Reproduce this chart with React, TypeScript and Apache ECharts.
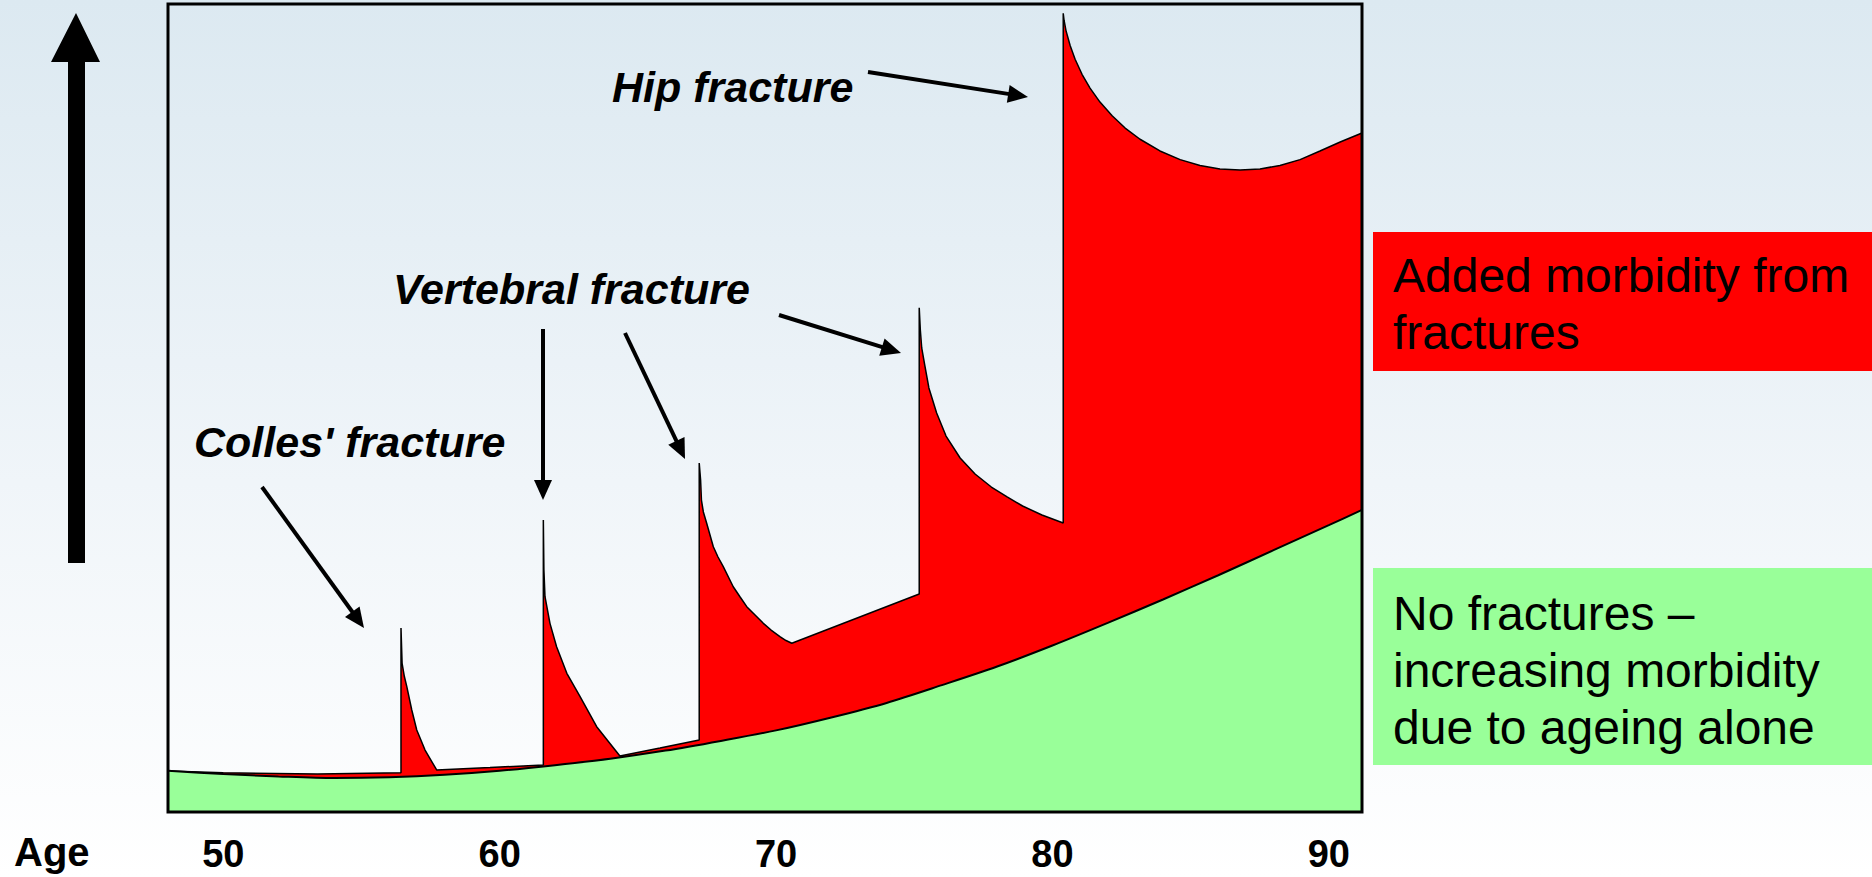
import React, { useEffect, useRef } from "react";
import * as echarts from "echarts";

// ---- Data (age in years, morbidity in arbitrary units 0-100) ----
const tickAges = [50, 60, 70, 80, 90];

// Morbidity due to ageing alone (green area)
const ageingAges = [48, 50, 52, 54, 56, 58, 60, 62, 64, 66, 68, 70, 72, 74, 76, 78, 80, 82, 84, 86, 88, 90, 91.2];
const ageingMorbidity = [5.1, 4.7, 4.4, 4.2, 4.3, 4.6, 5.1, 5.8, 6.6, 7.6, 8.8, 10.1, 11.7, 13.5, 15.7, 18.0, 20.6, 23.4, 26.3, 29.3, 32.4, 35.5, 37.4];

// Total morbidity including fractures (top of red area)
const fractureAges = [
  48.0, 50.0, 53.4, 56.43,
  56.43, 56.47, 56.55, 56.64, 56.82, 57.0, 57.3, 57.72, 59.65, 61.58,
  61.58, 61.6, 61.64, 61.82, 62.06, 62.43, 62.91, 63.51, 64.35, 65.8, 67.22,
  67.22, 67.27, 67.3, 67.37, 67.49, 67.73, 67.9, 68.09, 68.45, 68.7, 68.94, 69.24, 69.54, 69.82, 70.14, 70.36, 70.57, 75.18,
  75.18, 75.22, 75.27, 75.38, 75.53, 75.81, 76.15, 76.66, 77.2, 77.79, 78.36, 78.92, 79.62, 80.39,
  80.39, 80.42, 80.49, 80.64, 80.82, 81.07, 81.36, 81.72, 82.16, 82.63, 83.17, 83.89, 84.62, 85.34, 86.06, 86.79, 87.51, 88.23, 88.96, 89.68, 90.41, 91.2,
];
const fractureMorbidity = [
  5.07, 4.85, 4.7, 4.85,
  22.77, 18.4, 16.8, 15.51, 12.62, 10.15, 7.67, 5.2, 5.5, 5.82,
  36.14, 30.0, 26.65, 23.35, 20.46, 17.17, 14.27, 10.56, 6.93, 7.92, 8.91,
  43.19, 41.09, 38.61, 37.13, 35.73, 32.83, 31.56, 30.36, 27.88, 26.61, 25.41, 24.38, 23.35, 22.52, 21.7, 21.22, 20.88, 26.98,
  62.4, 59.65, 57.43, 55.32, 52.48, 49.38, 46.53, 43.81, 41.83, 40.22, 38.99, 37.87, 36.76, 35.77,
  98.85, 97.99, 96.71, 94.86, 93.16, 91.3, 89.59, 87.86, 86.16, 84.65, 83.26, 81.81, 80.74, 80.01, 79.59, 79.46, 79.59, 80.01, 80.74, 81.81, 82.92, 84.03,
];

const annotationLabels = ["Hip fracture", "Vertebral fracture", "Colles' fracture"];
const legendLabels = ["Added morbidity from\nfractures", "No fractures \u2013\nincreasing morbidity\ndue to ageing alone"];
const axisTitle = "Age";

// ---- Layout ----
const W = 1872;
const H = 877;
const GRID = { left: 168, top: 4, width: 1194, height: 808 };
const RED = "#ff0000";
const GREEN = "#99ff99";
const SANS = '"Liberation Sans", Arial, sans-serif';
const ANNOT_FONT = `italic bold 43px ${SANS}`;
const LEGEND_FONT = `48px ${SANS}`;

function arrow(x1: number, y1: number, x2: number, y2: number, lw = 4, hl = 20, hw = 9) {
  const dx = x2 - x1, dy = y2 - y1;
  const L = Math.hypot(dx, dy);
  const ux = dx / L, uy = dy / L;
  const bx = x2 - ux * hl, by = y2 - uy * hl;
  return [
    { type: "line", z: 50, shape: { x1, y1, x2: bx + ux * 3, y2: by + uy * 3 }, style: { stroke: "#000", lineWidth: lw } },
    {
      type: "polygon", z: 50,
      shape: { points: [[x2, y2], [bx - uy * hw, by + ux * hw], [bx + uy * hw, by - ux * hw]] },
      style: { fill: "#000" },
    },
  ];
}

export default function App() {
  const ref = useRef<HTMLDivElement>(null);
  useEffect(() => {
    if (!ref.current) return;
    const chart = echarts.init(ref.current, null, { renderer: "svg", width: W, height: H });

    const redData = fractureAges.map((a, i) => [a, fractureMorbidity[i]]);
    const greenData = ageingAges.map((a, i) => [a, ageingMorbidity[i]]);

    const graphic: any[] = [
      // plot frame
      { type: "rect", z: 100, shape: { x: GRID.left, y: GRID.top, width: GRID.width, height: GRID.height }, style: { fill: "none", stroke: "#000", lineWidth: 3 } },
      // big vertical arrow (morbidity increases)
      {
        type: "polygon", z: 50,
        shape: { points: [[76, 13], [100, 62], [85, 62], [85, 563], [68, 563], [68, 62], [51, 62]] },
        style: { fill: "#000" },
      },
      // annotation texts
      { type: "text", z: 60, x: 612, y: 87, style: { text: annotationLabels[0], font: ANNOT_FONT, fill: "#000", align: "left", verticalAlign: "middle" } },
      { type: "text", z: 60, x: 393, y: 289, style: { text: annotationLabels[1], font: ANNOT_FONT, fill: "#000", align: "left", verticalAlign: "middle" } },
      { type: "text", z: 60, x: 194, y: 442, style: { text: annotationLabels[2], font: ANNOT_FONT, fill: "#000", align: "left", verticalAlign: "middle" } },
      ...arrow(868, 72, 1028, 97),
      ...arrow(543, 329, 543, 500),
      ...arrow(625, 333, 685, 459),
      ...arrow(779, 315, 901, 353),
      ...arrow(262, 487, 364, 628),
      // legend boxes
      { type: "rect", z: 40, shape: { x: 1373, y: 232, width: W - 1373, height: 139 }, style: { fill: RED } },
      { type: "text", z: 41, x: 1393, y: 304, style: { text: legendLabels[0], font: LEGEND_FONT, lineHeight: 57, fill: "#000", align: "left", verticalAlign: "middle" } },
      { type: "rect", z: 40, shape: { x: 1373, y: 568, width: W - 1373, height: 197 }, style: { fill: GREEN } },
      { type: "text", z: 41, x: 1393, y: 670, style: { text: legendLabels[1], font: LEGEND_FONT, lineHeight: 57, fill: "#000", align: "left", verticalAlign: "middle" } },
      // axis title
      { type: "text", z: 60, x: 14, y: 852, style: { text: axisTitle, font: `bold 40px ${SANS}`, fill: "#000", align: "left", verticalAlign: "middle" } },
    ];

    chart.setOption({
      animation: false,
      backgroundColor: new echarts.graphic.LinearGradient(0, 0, 0, 1, [
        { offset: 0, color: "#dce9f1" },
        { offset: 0.55, color: "#f0f5f9" },
        { offset: 1, color: "#ffffff" },
      ]),
      grid: { left: GRID.left, top: GRID.top, width: GRID.width, height: GRID.height, containLabel: false },
      xAxis: {
        type: "value",
        min: 48,
        max: 91.2,
        axisLine: { show: false },
        axisTick: { show: false },
        splitLine: { show: false },
        axisLabel: {
          customValues: tickAges,
          color: "#000",
          fontWeight: "bold",
          fontSize: 38,
          lineHeight: 38,
          fontFamily: SANS,
          margin: 23,
        },
      },
      yAxis: { type: "value", min: 0, max: 100, show: false },
      series: [
        {
          name: "Added morbidity from fractures",
          type: "line",
          data: redData,
          showSymbol: false,
          smooth: false,
          lineStyle: { color: "#000", width: 1.5 },
          areaStyle: { color: RED, opacity: 1 },
          z: 2,
        },
        {
          name: "No fractures",
          type: "line",
          data: greenData,
          showSymbol: false,
          smooth: 0.3,
          lineStyle: { color: "#000", width: 2 },
          areaStyle: { color: GREEN, opacity: 1 },
          z: 3,
        },
      ],
      graphic,
    });
    return () => chart.dispose();
  }, []);
  return <div ref={ref} style={{ position: "fixed", left: 0, top: 0, width: W, height: H }} />;
}
